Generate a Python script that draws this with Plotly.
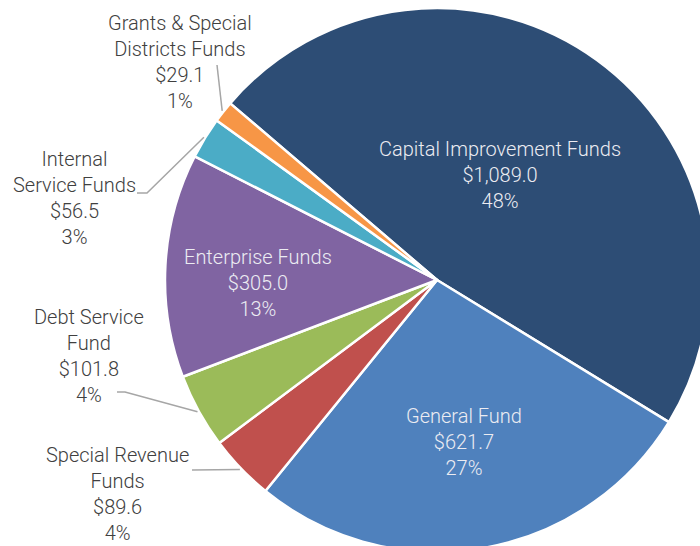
import math
import plotly.graph_objects as go

# ---- data ----
funds = ["Capital Improvement Funds", "General Fund", "Special Revenue Funds",
         "Debt Service Fund", "Enterprise Funds", "Internal Service Funds",
         "Grants & Special Districts Funds"]
label_lines = ["Capital Improvement Funds", "General Fund", "Special Revenue<br>Funds",
               "Debt Service<br>Fund", "Enterprise Funds", "Internal<br>Service Funds",
               "Grants & Special<br>Districts Funds"]
amounts = [1089.0, 621.7, 89.6, 101.8, 305.0, 56.5, 29.1]
pct_labels = ["48%", "27%", "4%", "4%", "13%", "3%", "1%"]

colors = ["#2D4D75", "#4F81BD", "#C0504D", "#9BBB59", "#8064A2", "#4BACC6", "#F79646"]

# ---- layout geometry (pixels) ----
W, H = 720, 560
CX, CY, R = 437, 280, 272
ROT = -49.5
FONT = "Roboto"

inside = {0: (500, 175), 1: (464, 442), 4: (258, 283)}
outside = {6: ((180, 62), [(217, 65)]),
           5: ((74, 198), [(137, 193), (147, 193)]),
           3: ((89, 356), [(117, 392), (125, 392)]),
           2: ((117, 494), [(192, 470)])}

fig = go.Figure()
fig.add_trace(go.Pie(
    labels=funds, values=amounts, sort=False, direction="clockwise",
    rotation=ROT, textinfo="none", hoverinfo="label+value",
    marker=dict(colors=colors, line=dict(color="white", width=2.5)),
    domain=dict(x=[(CX - R) / W, (CX + R) / W], y=[1 - (CY + R) / H, 1 - (CY - R) / H]),
    showlegend=False,
))

total = sum(amounts)
angles = []
acc = ROT
for v in amounts:
    span = v / total * 360
    angles.append(acc + span / 2)
    acc += span

def txt(i):
    return f"{label_lines[i]}<br>${amounts[i]:,.1f}<br>{pct_labels[i]}"

annotations = []
for i, (x, y) in inside.items():
    annotations.append(dict(x=x, y=y, xref="x", yref="y", text=txt(i), showarrow=False,
                            font=dict(family=FONT, size=20, color="#ECECF2", weight=300),
                            align="center"))
shapes = []
for i, ((x, y), pts) in outside.items():
    annotations.append(dict(x=x, y=y, xref="x", yref="y", text=txt(i), showarrow=False,
                            font=dict(family=FONT, size=20, color="#404040", weight=300),
                            align="center"))
    th = math.radians(angles[i])
    ex, ey = CX + R * 1.005 * math.sin(th), CY - R * 1.005 * math.cos(th)
    path_pts = pts + [(ex, ey)]
    path = "M " + " L ".join(f"{px:.1f},{py:.1f}" for px, py in path_pts)
    shapes.append(dict(type="path", path=path, xref="x", yref="y",
                       line=dict(color="#A6A6A6", width=1.5), layer="above"))

fig.update_layout(
    width=W, height=H, margin=dict(l=0, r=0, t=0, b=0),
    paper_bgcolor="white", plot_bgcolor="rgba(0,0,0,0)",
    xaxis=dict(range=[0, W], visible=False, fixedrange=True),
    yaxis=dict(range=[H, 0], visible=False, fixedrange=True),
    annotations=annotations, shapes=shapes, showlegend=False,
)

fig.write_html("out.html", config={"displayModeBar": False}, post_script=(
    "document.body.style.margin='0';"
    "document.body.style.overflow='hidden';"
    "document.documentElement.style.overflow='hidden';"))
